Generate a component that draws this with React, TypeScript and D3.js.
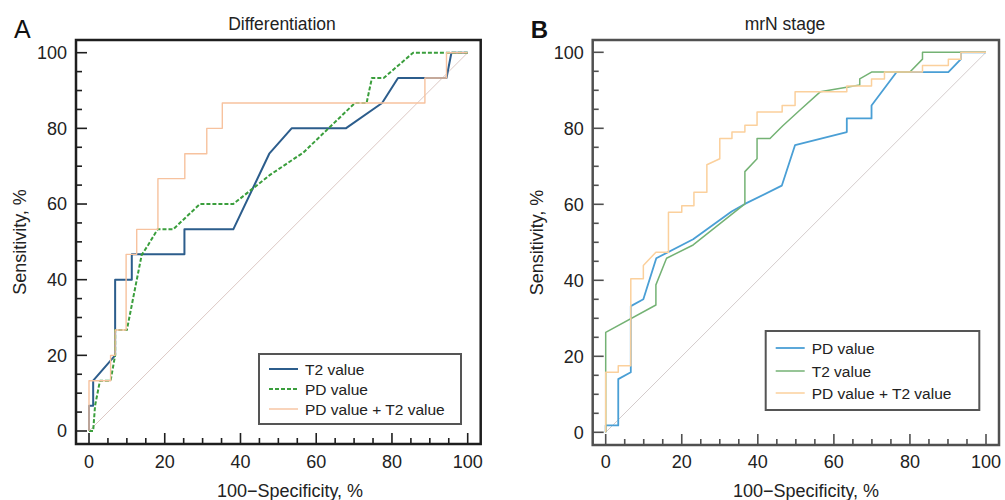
import React from 'react'
import * as d3 from 'd3'

type Pt = [number, number]

// panel A - Differentiation
const diffT2: Pt[] = [[0, 0], [0, 6.7], [1.1, 6.7], [1.1, 13.3], [6.9, 20], [6.9, 40], [11.3, 40], [11.3, 46.7], [25.2, 46.7], [25.2, 53.3], [38.1, 53.3], [47.6, 73.3], [53.5, 80], [67.8, 80], [77.4, 86.7], [81.6, 93.3], [94.4, 93.3], [95.7, 100], [100, 100]]
const diffPD: Pt[] = [[0, 0], [1.1, 0], [1.6, 6.7], [2.9, 13.3], [5.7, 13.3], [6.9, 20], [6.9, 26.7], [10, 26.7], [13.9, 46.5], [15.7, 49.3], [18.1, 53.3], [22.2, 53.3], [29.3, 60], [38.1, 60], [47.8, 67.7], [56.6, 73.6], [70.2, 86.7], [73.3, 86.7], [74.7, 93.3], [77.8, 93.3], [85.6, 100], [100, 100]]
const diffBoth: Pt[] = [[0, 0], [0, 13.3], [5.7, 13.3], [5.7, 20], [6.9, 20], [6.9, 26.7], [9.8, 26.7], [9.8, 46.7], [12.6, 46.7], [12.6, 53.3], [18.2, 53.3], [18.2, 66.7], [25.3, 66.7], [25.3, 73.3], [31.1, 73.3], [31.1, 80], [35.2, 80], [35.2, 86.7], [88.7, 86.7], [88.7, 93.3], [94.4, 93.3], [94.4, 100], [100, 100]]

// panel B - mrN stage
const stagePD: Pt[] = [[0, 0], [0, 1.8], [3.3, 1.8], [3.3, 14], [6.6, 15.8], [6.6, 33.2], [9.9, 35], [13.3, 45.8], [23, 50.8], [33.1, 58.1], [36.6, 60.1], [46.3, 64.9], [49.8, 75.6], [63.4, 79], [63.4, 82.6], [69.9, 82.6], [69.9, 86], [76.5, 94.8], [90.1, 94.8], [93.4, 98.2], [93.4, 100], [100, 100]]
const stageT2: Pt[] = [[0, 0], [0, 26.3], [13.2, 33.5], [13.2, 38.8], [16, 45.8], [23, 49.3], [36.6, 60.1], [36.6, 68.6], [39.8, 72], [39.8, 77.3], [43.2, 77.3], [46.5, 80.6], [51.1, 84.8], [56.4, 89.6], [66.8, 91.4], [66.8, 93], [69.9, 94.8], [80, 94.8], [83.3, 98.2], [83.3, 100], [100, 100]]
const stageBoth: Pt[] = [[0, 0], [0, 15.8], [3.3, 15.8], [3.3, 17.5], [6.6, 17.5], [6.6, 40.4], [9.9, 40.4], [9.9, 43.9], [13.2, 47.4], [16.5, 47.4], [16.5, 57.9], [20, 57.9], [20, 59.6], [23.2, 59.6], [23.2, 63.2], [26.6, 63.2], [26.6, 70.4], [30, 72], [30, 77.3], [33.2, 77.3], [33.2, 79], [36.6, 79], [36.6, 80.8], [39.8, 80.8], [39.8, 84.3], [46.4, 84.3], [46.4, 86], [49.8, 86], [49.8, 89.6], [63.4, 89.6], [63.4, 91.1], [69.9, 91.1], [69.9, 93], [73.3, 93], [73.3, 94.8], [83.3, 94.8], [83.3, 96.5], [90.1, 96.5], [90.1, 98.2], [93.4, 98.2], [93.4, 100], [100, 100]]

const tickValues = [0, 20, 40, 60, 80, 100]
const minorTicks = d3.range(0, 101, 5)

const font = '"Liberation Sans", Arial, Helvetica, sans-serif'

interface Series {
  name: string
  data: Pt[]
  color: string
  width: number
  dash?: string
}

interface PanelProps {
  letter: string
  letterWeight: number
  title: string
  frame: [number, number, number, number]
  xRange: [number, number]
  yRange: [number, number]
  frameColor: string
  diagColor: string
  series: Series[]
  legend: { x: number; y: number; w: number; h: number; rowY: number[] }
  titleX: number
  xTitleX: number
}

function Panel(p: PanelProps) {
  const x = d3.scaleLinear().domain([0, 100]).range(p.xRange)
  const y = d3.scaleLinear().domain([0, 100]).range(p.yRange)
  const line = d3.line<Pt>().x((d) => x(d[0])).y((d) => y(d[1]))
  const [fx0, fy0, fx1, fy1] = p.frame
  const lg = p.legend

  return (
    <g>
      <text x={fx0 - 62} y={38} fontSize={p.letterWeight > 500 ? 24 : 25} fontWeight={p.letterWeight} fill="#111">
        {p.letter}
      </text>
      <text x={p.titleX} y={30} textAnchor="middle" fontSize={17.5} fill="#222">
        {p.title}
      </text>

      <line x1={x(0)} y1={y(0)} x2={x(100)} y2={y(100)} stroke={p.diagColor} strokeWidth={1} />

      {p.series.map((s) => (
        <path
          key={s.name}
          d={line(s.data) || ''}
          fill="none"
          stroke={s.color}
          strokeWidth={s.width}
          strokeDasharray={s.dash}
          strokeLinejoin="round"
        />
      ))}

      {/* ticks */}
      {minorTicks.map((t) => {
        const major = t % 20 === 0
        return (
          <g key={t} stroke={p.frameColor} strokeWidth={1.6}>
            <line x1={fx0} x2={fx0 + (major ? 11 : 6)} y1={y(t)} y2={y(t)} />
            <line x1={x(t)} x2={x(t)} y1={fy1} y2={fy1 - (major ? 11 : 6)} />
          </g>
        )
      })}
      {tickValues.map((t) => (
        <g key={'l' + t} fontSize={18} fill="#222">
          <text x={fx0 - 9} y={y(t)} dy="0.35em" textAnchor="end">
            {t}
          </text>
          <text x={x(t)} y={468} textAnchor="middle">
            {t}
          </text>
        </g>
      ))}

      <rect x={fx0} y={fy0} width={fx1 - fx0} height={fy1 - fy0} fill="none" stroke={p.frameColor} strokeWidth={2.5} />

      {/* legend */}
      <rect x={lg.x} y={lg.y} width={lg.w} height={lg.h} fill="#fff" stroke="#555" strokeWidth={2} />
      {p.series.map((s, i) => (
        <g key={'lg' + s.name}>
          <line
            x1={lg.x + 10}
            x2={lg.x + 39}
            y1={lg.rowY[i]}
            y2={lg.rowY[i]}
            stroke={s.color}
            strokeWidth={s.width}
            strokeDasharray={s.dash}
          />
          <text x={lg.x + 46} y={lg.rowY[i]} dy="0.36em" fontSize={15.5} fill="#222">
            {s.name}
          </text>
        </g>
      ))}

      <text
        transform={`translate(${fx0 - 50},${(fy0 + fy1) / 2}) rotate(-90)`}
        textAnchor="middle"
        fontSize={18}
        fill="#222"
      >
        Sensitivity, %
      </text>
      <text x={p.xTitleX} y={497} textAnchor="middle" fontSize={18} fill="#222">
        100−Specificity, %
      </text>
    </g>
  )
}

export default function App() {
  return (
    <div style={{ position: 'absolute', left: 0, top: 0 }}>
      <svg width={1005} height={500} fontFamily={font} style={{ display: 'block', background: '#fff' }}>
        <Panel
          letter="A"
          letterWeight={400}
          title="Differentiation"
          frame={[76, 40, 480.7, 444]}
          xRange={[89, 467.7]}
          yRange={[431, 52.7]}
          frameColor="#1e1e1e"
          diagColor="#dcc8c4"
          titleX={282}
          xTitleX={290}
          legend={{ x: 259, y: 354, w: 202, h: 70, rowY: [369, 389, 409] }}
          series={[
            { name: 'T2 value', data: diffT2, color: '#2c5d8c', width: 2 },
            { name: 'PD value', data: diffPD, color: '#3a9e3c', width: 2, dash: '4,2' },
            { name: 'PD value + T2 value', data: diffBoth, color: '#f7c29e', width: 1.4 },
          ]}
        />
        <Panel
          letter="B"
          letterWeight={700}
          title="mrN stage"
          frame={[592.7, 40, 999, 445]}
          xRange={[605.7, 986]}
          yRange={[432.3, 52.3]}
          frameColor="#505050"
          diagColor="#d4cccc"
          titleX={785}
          xTitleX={806}
          legend={{ x: 765.7, y: 331, w: 213.6, h: 79, rowY: [348, 371, 393] }}
          series={[
            { name: 'PD value', data: stagePD, color: '#4a9fd5', width: 1.8 },
            { name: 'T2 value', data: stageT2, color: '#74b274', width: 1.5 },
            { name: 'PD value + T2 value', data: stageBoth, color: '#fbd09c', width: 1.5 },
          ]}
        />
      </svg>
    </div>
  )
}
